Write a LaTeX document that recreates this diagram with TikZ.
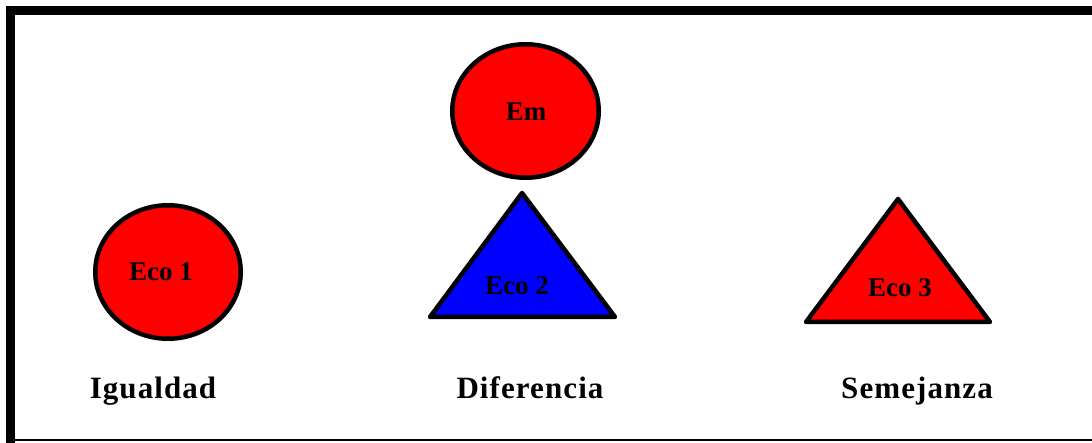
\documentclass[tikz,border=0pt]{standalone}
\usepackage{fontspec}
\setmainfont{Liberation Serif}
\begin{document}
\begin{tikzpicture}[x=1pt,y=-1pt,
  shapeline/.style={draw=black,line width=4.5pt,line join=round},
  redfill/.style={shapeline,fill={rgb,255:red,255;green,0;blue,0}},
  bluefill/.style={shapeline,fill={rgb,255:red,0;green,0;blue,255}},
  inlabel/.style={font=\bfseries\fontsize{27}{29}\selectfont,inner sep=0pt,anchor=base},
  caption/.style={font=\bfseries\addfontfeatures{LetterSpace=3.5}\fontsize{31}{33}\selectfont,inner sep=0pt,anchor=base}]
\useasboundingbox (0,0) rectangle (1092,443);
% frame
\fill[black] (6,6) rectangle (1092,15);
\fill[black] (6,6) rectangle (15,443);
\draw[black,line width=1.5pt] (15,440) -- (1092,440);
% Eco 1
\draw[redfill] (168,272) ellipse [x radius=72.75, y radius=66.75];
\node[inlabel] (eco1) at (161,281) {Eco 1};
% Em
\draw[redfill] (525.5,111) ellipse [x radius=73.25, y radius=66.75];
\node[inlabel] (em) at (526,121) {Em};
% Eco 2
\draw[bluefill] (522,193) -- (430,317) -- (615,317) -- cycle;
\node[inlabel] (eco2) at (517,295) {Eco 2};
% Eco 3
\draw[redfill] (898,199) -- (806,322) -- (990,322) -- cycle;
\node[inlabel] (eco3) at (900,297) {Eco 3};
% captions
\node[caption] (igual) at (153,399) {Igualdad};
\node[caption] (dif) at (530,399) {Diferencia};
\node[caption] (sem) at (917,399) {Semejanza};
\end{tikzpicture}
\end{document}
